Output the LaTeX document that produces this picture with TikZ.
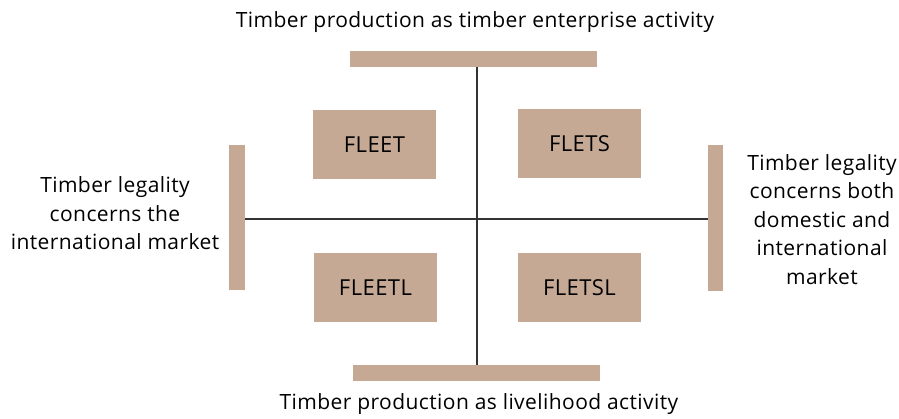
\documentclass[tikz,border=0pt]{standalone}
\usepackage{fontspec}
\setmainfont[LetterSpace=2]{Open Sans}
\usepackage{tikz}
\definecolor{tan}{RGB}{198,169,149}

\begin{document}
\begin{tikzpicture}[x=1pt, y=-1pt,
  quadbox/.style={fill=tan, minimum width=123pt, minimum height=69pt, inner sep=0pt, font=\fontsize{22}{28}\selectfont},
  sidebar/.style={fill=tan, inner sep=0pt},
  axistext/.style={align=center, inner sep=0pt, font=\fontsize{21}{28.5}\selectfont},
  axisline/.style={draw=black!80, line width=1.5pt}]
\useasboundingbox (0,0) rectangle (899,418);
% bars at the four ends
\node [sidebar, minimum width=247pt, minimum height=16pt] (top) at (473.5,59) {};
\node [sidebar, minimum width=247pt, minimum height=16pt] (bottom) at (476.5,373) {};
\node [sidebar, minimum width=16pt, minimum height=145pt] (left) at (237,217.5) {};
\node [sidebar, minimum width=15pt, minimum height=146pt] (right) at (715.5,218) {};
% crossing of the two axes
\coordinate (o) at (477,219);
\draw [axisline] (top.south -| o) -- (bottom.north -| o);
\draw [axisline] (left.east |- o) -- (right.west |- o);
% the four quadrants
\node [quadbox] (fleet) at (374.5,144.5) {FLEET};
\node [quadbox] (flets) at (579.5,143.5) {FLETS};
\node [quadbox] (fleetl) at (375.5,287.5) {FLEETL};
\node [quadbox] (fletsl) at (579.5,287.5) {FLETSL};
% axis texts
\node [axistext] (toptext) at (475,22) {Timber production as timber enterprise activity};
\node [axistext] (bottomtext) at (479,404) {Timber production as livelihood activity};
\node [axistext] (lefttext) at (115,213.5) {Timber legality\\concerns the\\international market};
\node [axistext] (righttext) at (822,219.5) {Timber legality\\concerns both\\domestic and\\international\\market};
\end{tikzpicture}
\end{document}
